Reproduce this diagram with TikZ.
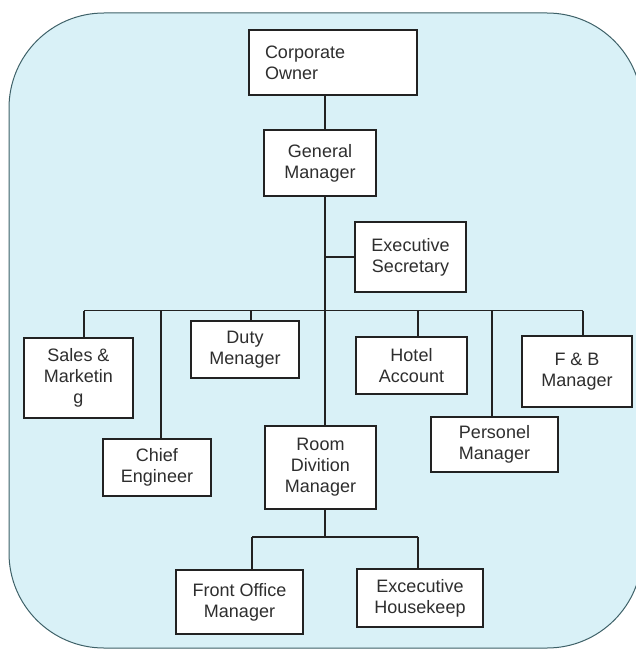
\documentclass[tikz,border=0pt]{standalone}
\usepackage{fontspec}
\setmainfont{Liberation Sans}
\definecolor{bgcyan}{HTML}{D9F1F7}
\definecolor{bordercol}{HTML}{3E6168}
\definecolor{boxline}{HTML}{222222}
\definecolor{txt}{HTML}{2E2E2E}
\begin{document}
\begin{tikzpicture}[x=1pt,y=-1pt,
  box/.style={draw=boxline, line width=1.3pt, fill=white, inner sep=0pt,
    align=center, text=txt, font=\fontsize{18}{21}\selectfont},
  conn/.style={draw=boxline, line width=1.3pt}]
\useasboundingbox (0,0) rectangle (635,650);
\draw[fill=bgcyan, draw=bordercol, line width=1pt, rounded corners=95pt] (9,13) rectangle (642,648);

\node[box, minimum width=168pt, minimum height=65pt, text width=136pt, align=left, inner xsep=16pt] (owner) at (333,62.5) {Corporate\\Owner};
\node[box, minimum width=112pt, minimum height=66pt] (gm) at (320,163) {General\\Manager};
\node[box, minimum width=111pt, minimum height=70pt] (sec) at (410.5,257) {Executive\\Secretary};
\node[box, minimum width=109pt, minimum height=80pt] (sales) at (78.5,378) {Sales \&\\Marketin\\g};
\node[box, minimum width=108pt, minimum height=57pt] (duty) at (245,349.5) {Duty\\Menager};
\node[box, minimum width=111pt, minimum height=57pt] (hotel) at (411.5,365.5) {Hotel\\Account};
\node[box, minimum width=110pt, minimum height=71pt] (fb) at (577,371.5) {F \& B\\Manager};
\node[box, minimum width=108pt, minimum height=57pt] (chief) at (157,467.5) {Chief\\Engineer};
\node[box, minimum width=111pt, minimum height=83pt] (room) at (320.5,467.5) {Room\\Divition\\Manager};
\node[box, minimum width=127pt, minimum height=55pt] (pers) at (494.5,444.5) {Personel\\Manager};
\node[box, minimum width=127pt, minimum height=64pt] (front) at (239.5,602) {Front Office\\Manager};
\node[box, minimum width=126pt, minimum height=58pt] (house) at (420,598) {Excecutive\\Housekeep};

\coordinate (T) at (325,0);
\draw[conn] (owner.south -| T) -- (gm.north -| T);
\draw[conn] (gm.south -| T) -- (room.north -| T);
\draw[conn] (sec.west) -- (sec.west -| T);

\coordinate (dS) at (84,310.5);
\coordinate (dC) at (161,310.5);
\coordinate (dD) at (251,310.5);
\coordinate (dH) at (418,310.5);
\coordinate (dP) at (492,310.5);
\coordinate (dF) at (583,310.5);
\draw[conn] (dS) -- (dF);
\draw[conn] (dS) -- (dS |- sales.north);
\draw[conn] (dC) -- (dC |- chief.north);
\draw[conn] (dD) -- (dD |- duty.north);
\draw[conn] (dH) -- (dH |- hotel.north);
\draw[conn] (dP) -- (dP |- pers.north);
\draw[conn] (dF) -- (dF |- fb.north);

\coordinate (b) at (325,537);
\coordinate (bL) at (252,537);
\coordinate (bR) at (418,537);
\draw[conn] (room.south -| T) -- (b);
\draw[conn] (bL) -- (bR);
\draw[conn] (bL) -- (bL |- front.north);
\draw[conn] (bR) -- (bR |- house.north);
\end{tikzpicture}
\end{document}
